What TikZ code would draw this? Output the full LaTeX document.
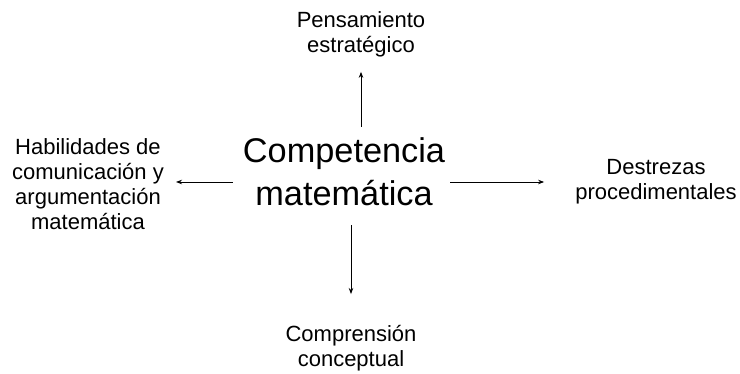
\documentclass[tikz,border=0pt]{standalone}
\usepackage{fontspec}
\setmainfont{Liberation Sans}
\usetikzlibrary{arrows.meta}

\begin{document}
\begin{tikzpicture}[x=1pt, y=-1pt,
    labeltext/.style={align=center, inner sep=0pt, font=\fontsize{22}{24.8}\selectfont},
    arr/.style={-{Stealth[length=6pt,width=4.5pt]}, line width=0.8pt}
]

\useasboundingbox (0,0) rectangle (740,374);

\node[align=center, inner sep=0pt, font=\fontsize{34.3}{43}\selectfont] (comp) at (344,172)
{Competencia\\matemática};

\node[labeltext] (pens) at (361,34) {Pensamiento\\estratégico};
\node[labeltext] (hab) at (88,184) {Habilidades de\\comunicación y\\argumentación\\matemática};
\node[labeltext] (dest) at (656,181.5) {Destrezas\\procedimentales};
\node[labeltext] (compr) at (351,348.5) {Comprensión\\conceptual};

\draw[arr, shorten <=11pt, shorten >=15pt] (pens.south |- comp.north) -- (pens.south);
\draw[arr, shorten <=19pt, shorten >=31.5pt] (compr.north |- comp.south) -- (compr.north);
\draw[arr, shorten <=10pt, shorten >=12pt] ([yshift=-10pt]comp.west) -- ([yshift=-10pt]comp.west -| hab.east);
\draw[arr, shorten <=5pt, shorten >=31pt] ([yshift=-10pt]comp.east) -- ([yshift=-10pt]comp.east -| dest.west);

\end{tikzpicture}
\end{document}
